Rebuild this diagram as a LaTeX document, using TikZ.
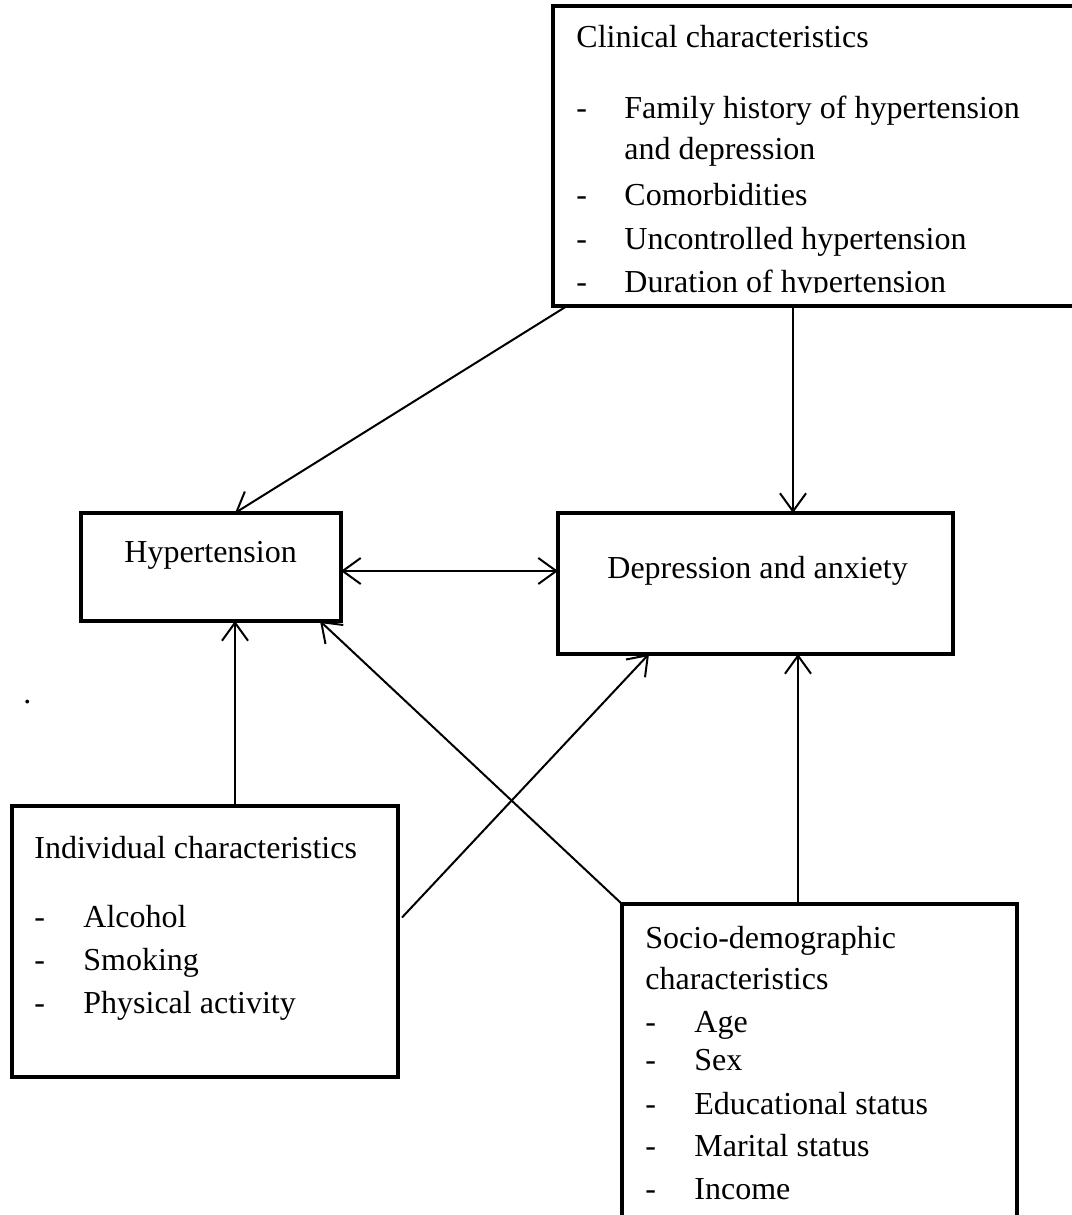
\documentclass[tikz,border=0pt]{standalone}
\usepackage{fontspec}
\setmainfont{Liberation Serif}
\usetikzlibrary{arrows.meta,calc}

\tikzset{
	box/.style={draw, line width=2pt, rectangle, anchor=north west, inner sep=0pt, outer sep=0pt},
	txt/.style={anchor=base west, inner sep=0pt, font=\fontsize{16}{19}\selectfont},
	arr/.style={line width=1pt, -{Straight Barb[length=9pt,width=13pt]}},
}

\begin{document}
\begin{tikzpicture}[x=0.5pt,y=-0.5pt]
		\useasboundingbox (0,0) rectangle (1071,1215);
		% boxes
		\node[box, minimum width=263.5pt, minimum height=150pt] (clin) at (553,6) {};
		\node[box, minimum width=130pt, minimum height=54pt] (hyp) at (81,513) {};
		\node[box, minimum width=197.5pt, minimum height=70.5pt] (dep) at (558,513) {};
		\node[box, minimum width=193pt, minimum height=135.5pt] (indiv) at (12,806) {};
		\node[box, minimum width=197.5pt, minimum height=160.5pt] (socio) at (622,904) {};
		%
		\begin{scope}
			\clip (553,0) rectangle (1080,292);
			\node[txt] (clin-title) at (576,47) {Clinical characteristics};
			\foreach \y in {118,205,249,292} \node[txt] at (576,\y) {-};
			\foreach \y/\t [count=\i] in {118/Family history of hypertension, 159/and depression, 205/Comorbidities, 249/Uncontrolled hypertension, 292/Duration of hypertension}
				\node[txt] (clin-\i) at (624,\y) {\t};
		\end{scope}
		\node[txt] (hyp-text) at (124,562) {Hypertension};
		\node[txt] (dep-text) at (607,578) {Depression and anxiety};
		\node[txt] (dot) at (23,703) {.};
		%
		\node[txt] (indiv-title) at (34,858) {Individual characteristics};
		\foreach \y/\t [count=\i] in {927/Alcohol, 970/Smoking, 1013/Physical activity}{
			\node[txt] at (34,\y) {-};
			\node[txt] (indiv-\i) at (83,\y) {\t};
		}
		%
		\node[txt] (socio-title) at (645,948) {Socio-demographic};
		\node[txt] (socio-title2) at (645,989) {characteristics};
		\foreach \y/\t [count=\i] in {1032/Age, 1070/Sex, 1114/Educational status, 1156/Marital status, 1199/Income}{
			\node[txt] at (645,\y) {-};
			\node[txt] (socio-\i) at (694,\y) {\t};
		}
		% connectors
		\draw[arr] ([xshift=7pt]clin.south west) -- ([xshift=12pt]hyp.north);
		\draw[arr] ([xshift=18.75pt]dep.north |- clin.south) -- ([xshift=18.75pt]dep.north);
		\draw[line width=1pt, {Straight Barb[length=9pt,width=13pt]}-{Straight Barb[length=9pt,width=13pt]}] ([yshift=-2pt]hyp.east) -- ([yshift=-2pt]hyp.east -| dep.west);
		\draw[arr] ([xshift=12pt]hyp.south |- indiv.north) -- ([xshift=12pt]hyp.south);
		\draw[arr] ([shift={(2pt,12pt)}]indiv.east) -- ([xshift=45.5pt]dep.south west);
		\draw[arr] (socio.north west) -- ([xshift=-10.5pt]hyp.south east);
		\draw[arr] ([xshift=21.25pt]dep.south |- socio.north) -- ([xshift=21.25pt]dep.south);
	\end{tikzpicture}
\end{document}
